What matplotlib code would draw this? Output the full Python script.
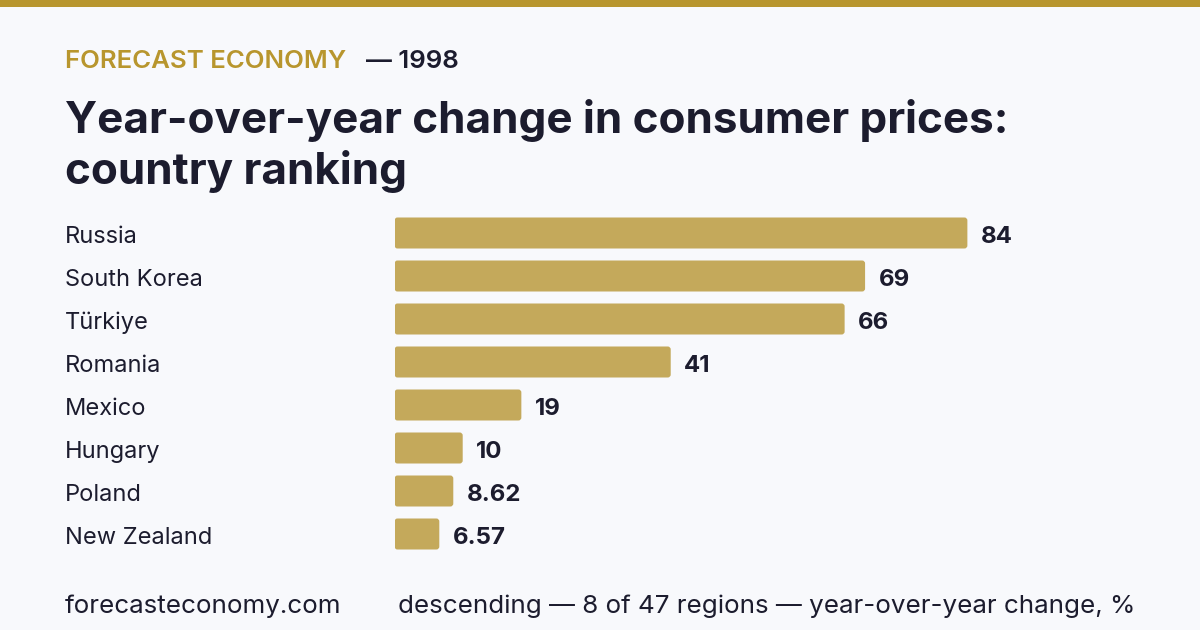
import matplotlib
matplotlib.use("Agg")
import matplotlib.pyplot as plt
import matplotlib.transforms as mtransforms
from matplotlib.patches import FancyBboxPatch, Rectangle

countries = ["Russia", "South Korea", "Türkiye", "Romania", "Mexico", "Hungary", "Poland", "New Zealand"]
values = [84, 69, 66, 40.5, 18.6, 10, 8.62, 6.57]
value_labels = ["84", "69", "66", "41", "19", "10", "8.62", "6.57"]

W, H = 1200, 630
BG = "#f8f9fc"
GOLD = "#b8962e"
BAR = "#c4a95b"
INK = "#1c1c2e"

plt.rcParams['font.family'] = ['Inter', 'DejaVu Sans']

fig = plt.figure(figsize=(W / 100, H / 100), dpi=100)
fig.patch.set_facecolor(BG)

def px(x, y):
    return x / W, 1 - y / H

# gold strip on top
fig.patches.append(Rectangle((0, 1 - 7 / H), 1, 7 / H, transform=fig.transFigure,
                             facecolor=GOLD, edgecolor="none"))

fig.text(*px(65, 62), "FORECAST ECONOMY", color=GOLD, fontsize=18.6, fontweight="semibold", va="center")
fig.text(*px(366, 62), "— 1998", color=INK, fontsize=18.6, fontweight="semibold", va="center")
fig.text(*px(65, 133), "Year-over-year change in consumer prices:", color=INK, fontsize=31.7,
         fontweight="bold", va="baseline")
fig.text(*px(65, 184), "country ranking", color=INK, fontsize=31.7, fontweight="bold", va="baseline")

# axes: x=0 at 394.5px, 6.82 px per unit; rows 43px apart, first centered at 233px
row = 43
top = 233 - row / 2
n = len(countries)
ax_w = 100 * 6.82
ax = fig.add_axes([394.5 / W, 1 - (top + n * row) / H, ax_w / W, n * row / H])
ax.set_xlim(0, 100)
ax.set_ylim(n - 0.5, -0.5)
ax.axis("off")

bar_h = 31 / row
xu_per_px = 100 / ax_w
yu_per_px = 1 / row
dy = 4 * yu_per_px  # text sits a little lower than the bar centre
for i, (v, lab) in enumerate(zip(values, value_labels)):
    ax.add_patch(FancyBboxPatch((0, i - bar_h / 2), v, bar_h,
                                boxstyle="round,pad=0,rounding_size=%f" % (3 * xu_per_px),
                                mutation_aspect=yu_per_px / xu_per_px,
                                facecolor=BAR, edgecolor="none"))
    ax.text(v + 13.5 * xu_per_px, i + dy, lab, color=INK, fontsize=17.3, fontweight="bold", va="center")

trans = mtransforms.blended_transform_factory(fig.transFigure, ax.transData)
for i, c in enumerate(countries):
    ax.text(65 / W, i + dy, c, transform=trans, color=INK, fontsize=17, va="center")

fig.text(*px(65, 606), "forecasteconomy.com", color=INK, fontsize=18.7, va="center")
fig.text(*px(398, 606), "descending — 8 of 47 regions — year-over-year change, %", color=INK,
         fontsize=18.7, va="center")

fig.savefig("out.png", dpi=100, facecolor=BG)
